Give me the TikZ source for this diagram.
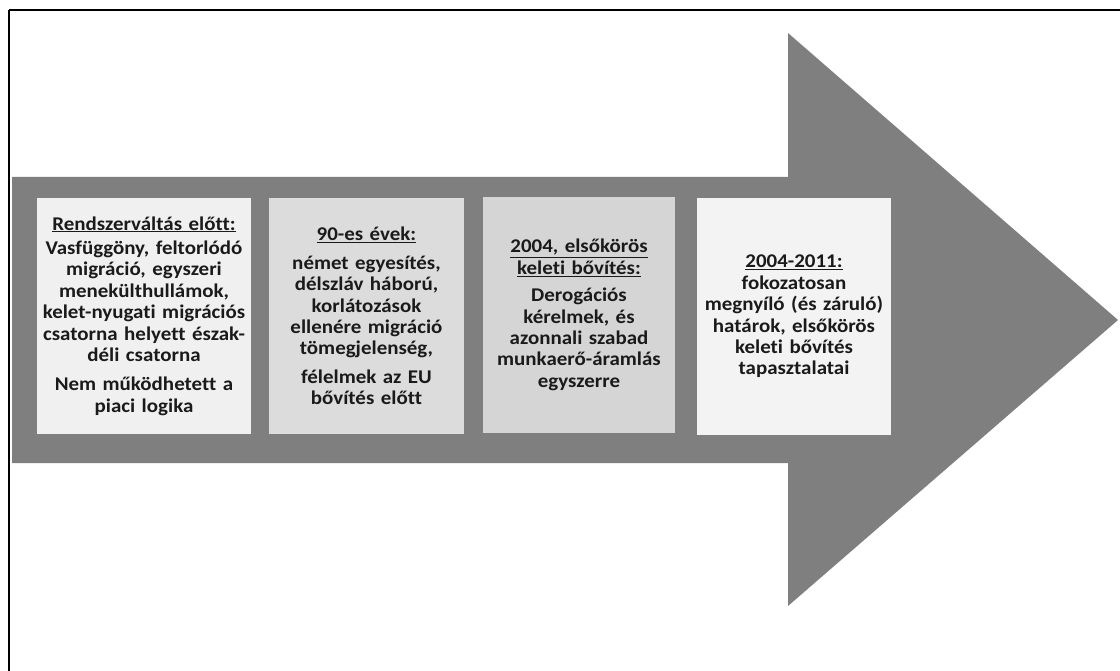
\documentclass[tikz,border=0pt]{standalone}
\usepackage{fontspec}
\newfontfamily\boxfont{Carlito}[Ligatures=NoCommon, FakeStretch=1.08]
\definecolor{arrowgray}{HTML}{7F7F7F}
\definecolor{boxa}{HTML}{F0F0F0}
\definecolor{boxb}{HTML}{DCDCDC}
\definecolor{boxc}{HTML}{D5D5D5}
\definecolor{boxd}{HTML}{F3F3F3}
\definecolor{boxtext}{HTML}{1A1A1A}
\begin{document}
\begin{tikzpicture}[x=1pt,y=-1pt]
            \tikzstyle{every node}=[rectangle, inner sep=0pt, minimum height=236pt, align=center, text=boxtext, font=\boxfont\bfseries\fontsize{19.4}{21.4}\selectfont]
            \tikzstyle{frame}=[black, line width=2.2pt]

            \useasboundingbox (0,0) rectangle (1120,671);
            \draw[frame] (9,10) -- (1120,10);
            \draw[frame] (9,10) -- (9,671);

            % the big arrow
            \fill[arrowgray] (12,177) -- (788,177) -- (788,33) -- (1118,320)
                -- (788,606) -- (788,463) -- (12,463) -- cycle;

            \node[fill=boxa, minimum width=214pt, text width=214pt] (rendszer) at (144,316)
                {\underline{Rendszerváltás előtt:}\\[3pt]
                 Vasfüggöny, feltorlódó\\ migráció, egyszeri\\ menekülthullámok,\\
                 kelet-nyugati migrációs\\ csatorna helyett észak-\\ déli csatorna\\[8pt]
                 Nem működhetett a\\ piaci logika};
            \node[fill=boxb, minimum width=195pt, text width=195pt] (evek) at (366.5,316)
                {\underline{90-es évek:}\\[7pt]
                 német egyesítés,\\ délszláv háború,\\ korlátozások\\ ellenére migráció\\
                 tömegjelenség,\\[7pt]
                 félelmek az EU\\ bővítés előtt};
            \node[fill=boxc, minimum width=192pt, text width=192pt] (bovites) at (579,315)
                {\underline{2004, elsőkörös}\\ \underline{keleti bővítés:}\\[6pt]
                 Derogációs\\ kérelmek, és\\ azonnali szabad\\ munkaerő-áramlás\\ egyszerre};
            \node[fill=boxd, minimum width=194pt, text width=194pt] (hatarok) at (794,316.5)
                {\underline{2004-2011:}\\
                 fokozatosan\\ megnyíló (és záruló)\\ határok, elsőkörös\\ keleti bővítés\\ tapasztalatai};
        \end{tikzpicture}
\end{document}
